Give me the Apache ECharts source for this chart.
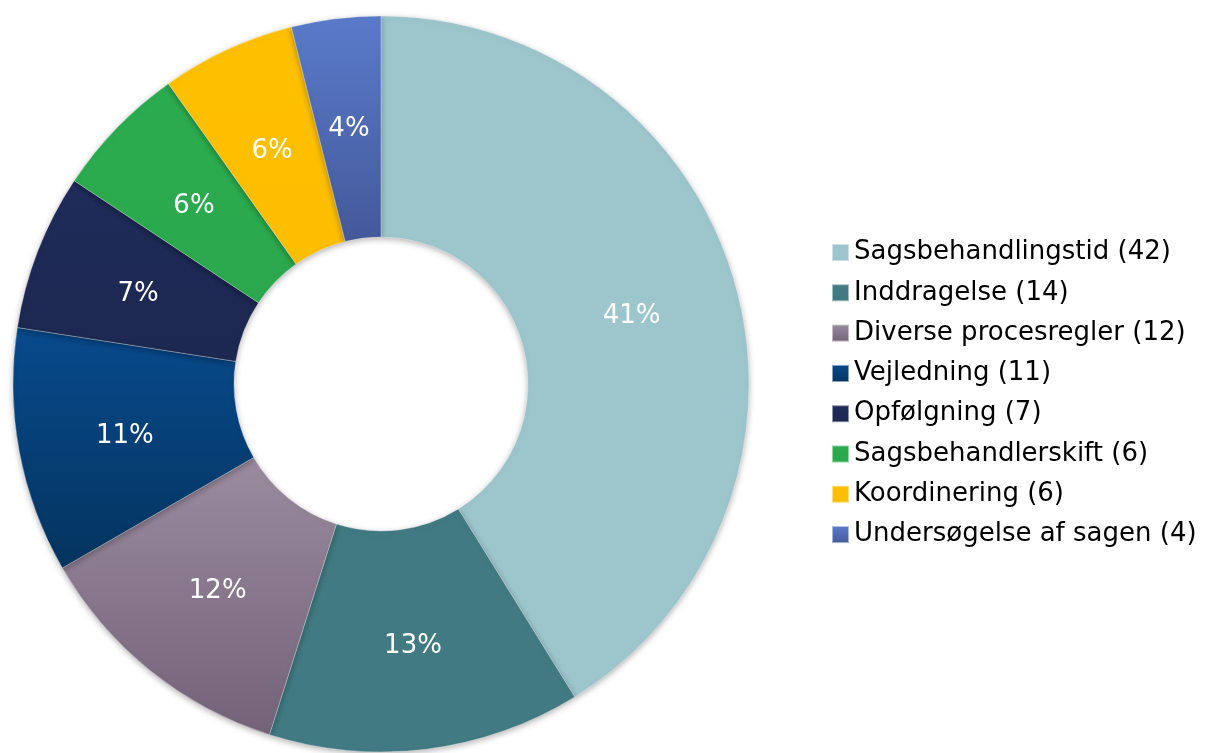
<!DOCTYPE html>
<html>
<head>
<meta charset="utf-8">
<script src="https://cdn.jsdelivr.net/npm/echarts@6/dist/echarts.min.js"></script>
<style>
  html, body { margin: 0; padding: 0; background: #fff; }
  #chart { width: 1206px; height: 753px; }
</style>
</head>
<body>
<div id="chart"></div>
<script>
const categories = ['Sagsbehandlingstid', 'Inddragelse', 'Diverse procesregler', 'Vejledning',
  'Opfølgning', 'Sagsbehandlerskift', 'Koordinering', 'Undersøgelse af sagen'];
const counts = [42, 14, 12, 11, 7, 6, 6, 4];
const pctLabels = ['41%', '13%', '12%', '11%', '7%', '6%', '6%', '4%'];

// top/bottom colour of each slice
const colorsTop = ['#9dc5cc', '#417a82', '#9b8b9f', '#084a8c', '#1f2b59', '#2bab4f', '#fec000', '#5a7bcb'];
const colorsBottom = ['#9dc5cc', '#417a82', '#746378', '#04345f', '#1c2850', '#2ba84d', '#fdbe00', '#44599a'];

const grad = (i) => new echarts.graphic.LinearGradient(0, 0, 0, 1, [
  { offset: 0, color: colorsTop[i] },
  { offset: 1, color: colorsBottom[i] }
]);

const chart = echarts.init(document.getElementById('chart'));

const data = categories.map((name, i) => ({
  name: name,
  value: counts[i],
  itemStyle: { color: grad(i) }
}));

chart.setOption({
  animation: false,
  color: colorsTop,
  legend: {
    orient: 'vertical',
    left: 826,
    top: 234,
    itemWidth: 17,
    itemHeight: 17,
    itemGap: 13.3,
    icon: 'rect',
    textStyle: {
      fontFamily: 'DejaVu Sans',
      fontSize: 26,
      lineHeight: 27,
      color: '#000',
      padding: [0, 0, 0, 0]
    },
    formatter: (name) => name + ' (' + counts[categories.indexOf(name)] + ')'
  },
  series: [{
    type: 'pie',
    center: [381, 384],
    radius: [147, 368],
    startAngle: 90,
    clockwise: true,
    avoidLabelOverlap: false,
    itemStyle: {
      borderColor: 'rgba(255,255,255,0.5)',
      borderWidth: 0.6,
      shadowBlur: 6,
      shadowOffsetY: 2,
      shadowColor: 'rgba(0,0,0,0.3)'
    },
    label: {
      show: true,
      position: 'inside',
      color: '#fff',
      fontFamily: 'DejaVu Sans',
      fontSize: 26,
      offset: [0, 4],
      formatter: (p) => pctLabels[p.dataIndex]
    },
    labelLine: { show: false },
    emphasis: { disabled: true },
    data: data
  }]
});
</script>
</body>
</html>
